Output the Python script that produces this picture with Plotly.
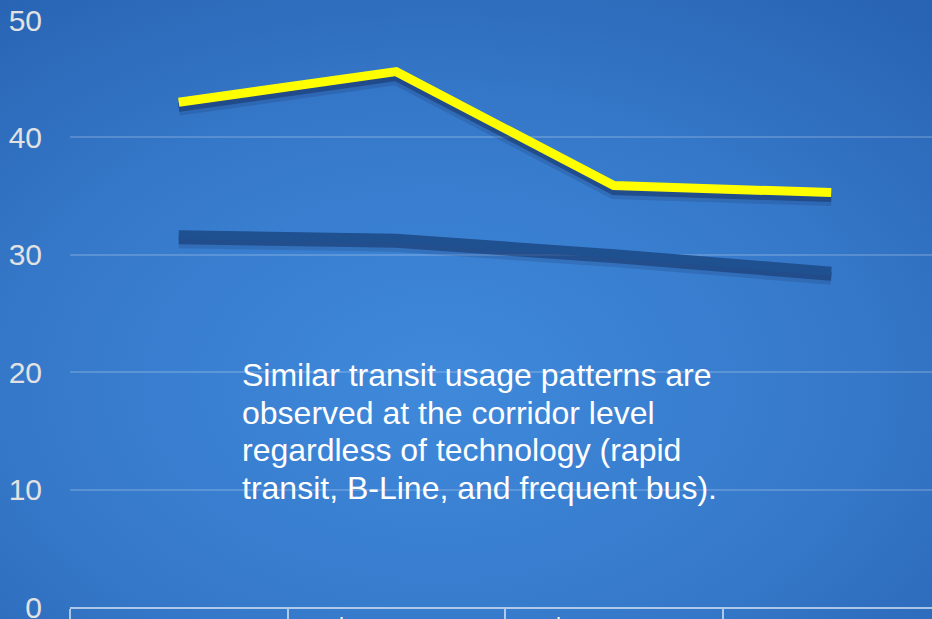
import base64
import plotly.graph_objects as go

# ---- data ----
categories = ["Under $30,000", "$30,000 - $49,999", "$50,000 - $79,999", "$80,000+"]
category_labels = ["Under $30,000", "$30,000 -<br>$49,999", "$50,000 -<br>$79,999", "$80,000+"]
yellow_values = [43.0, 45.6, 35.9, 35.3]
blue_values = [31.7, 31.4, 30.1, 28.6]
y_ticks = [0, 10, 20, 30, 40, 50]
note_lines = ["Similar transit usage patterns are",
              "observed at the corridor level",
              "regardless of technology (rapid",
              "transit, B-Line, and frequent bus)."]

W, H = 932, 619
ML, MR, MT, MB = 70, 0, 20, 12
PW, PH = W - ML - MR, H - MT - MB
col_w = 217.5

svg = f'''<svg xmlns="http://www.w3.org/2000/svg" width="{W}" height="{H}" viewBox="0 0 {W} {H}" preserveAspectRatio="none">
<defs><radialGradient id="g" cx="0.47" cy="0.62" r="0.78">
<stop offset="0" stop-color="#3f89db"/><stop offset="0.55" stop-color="#3679ca"/><stop offset="1" stop-color="#2964b4"/>
</radialGradient></defs><rect width="{W}" height="{H}" fill="url(#g)"/></svg>'''
bg_src = "data:image/svg+xml;base64," + base64.b64encode(svg.encode()).decode()

fig = go.Figure()

# empty trace so the main (tick/grid) axis pair is registered
fig.add_trace(go.Scatter(x=[], y=[], mode="lines", yaxis="y", hoverinfo="skip", showlegend=False))

px_per_unit = PH / 50
for axis_name, width, color in (("y2", 13, "rgba(20,45,95,0.18)"),
                                ("y3", 9, "rgba(20,45,95,0.50)")):
    for vals in (yellow_values, blue_values):
        fig.add_trace(go.Scatter(x=categories, y=vals, mode="lines", yaxis=axis_name,
                                 line=dict(color=color, width=width),
                                 hoverinfo="skip", showlegend=False))

fig.add_trace(go.Scatter(x=categories, y=blue_values, mode="lines", yaxis="y4",
                         line=dict(color="#1f5090", width=9), showlegend=False))
fig.add_trace(go.Scatter(x=categories, y=yellow_values, mode="lines", yaxis="y4",
                         line=dict(color="#ffff00", width=9), showlegend=False))

x_end = -0.5 + PW / col_w
s2 = 7 / px_per_unit
s3 = 5 / px_per_unit

fig.update_layout(
    width=W, height=H,
    margin=dict(l=ML, r=MR, t=MT, b=MB, pad=0, autoexpand=False),
    paper_bgcolor="#2f6fc2", plot_bgcolor="rgba(0,0,0,0)",
    font=dict(family="Liberation Sans, Arial, sans-serif", color="#e2e2e2"),
    showlegend=False,
    xaxis=dict(type="category", categoryorder="array", categoryarray=categories,
               range=[-0.5, x_end], showgrid=False, zeroline=False, automargin=False,
               showline=True, linecolor="rgba(255,255,255,0.6)", linewidth=2,
               ticks="outside", tickson="boundaries", ticklen=20,
               tickcolor="rgba(255,255,255,0.6)", tickwidth=1.5,
               showticklabels=False),
    yaxis=dict(range=[0, 50], tickvals=y_ticks, showgrid=True, automargin=False,
               gridcolor="rgba(255,255,255,0.18)", gridwidth=1.5,
               zeroline=False, showline=False, ticks="", ticklabeloverflow="allow",
               ticklabelstandoff=27, tickfont=dict(size=30, color="#e2e2e2")),
    yaxis2=dict(range=[s2, 50 + s2], overlaying="y", visible=False),
    yaxis3=dict(range=[s3, 50 + s3], overlaying="y", visible=False),
    yaxis4=dict(range=[0, 50], overlaying="y", visible=False),
    images=[dict(source=bg_src, xref="paper", yref="paper",
                 x=-ML / PW, y=1 + MT / PH, sizex=W / PW, sizey=H / PH,
                 xanchor="left", yanchor="top", sizing="stretch", layer="below")],
)

for cat, lab in zip(categories, category_labels):
    fig.add_annotation(x=cat, xref="x", y=-(648 - (MT + PH)) / PH, yref="paper",
                       text=lab, showarrow=False, yanchor="middle", xanchor="center",
                       font=dict(size=30, color="#ffffff"), align="center")

line_step = 37.7
for i, line in enumerate(note_lines):
    ypix = 375 + i * line_step
    fig.add_annotation(x=(240 - ML) / PW, y=1 - (ypix - MT) / PH, xref="paper", yref="paper",
                       xanchor="left", yanchor="middle", align="left", showarrow=False,
                       text=line, font=dict(size=32, color="#ffffff"))

fig.write_html("out.html")
